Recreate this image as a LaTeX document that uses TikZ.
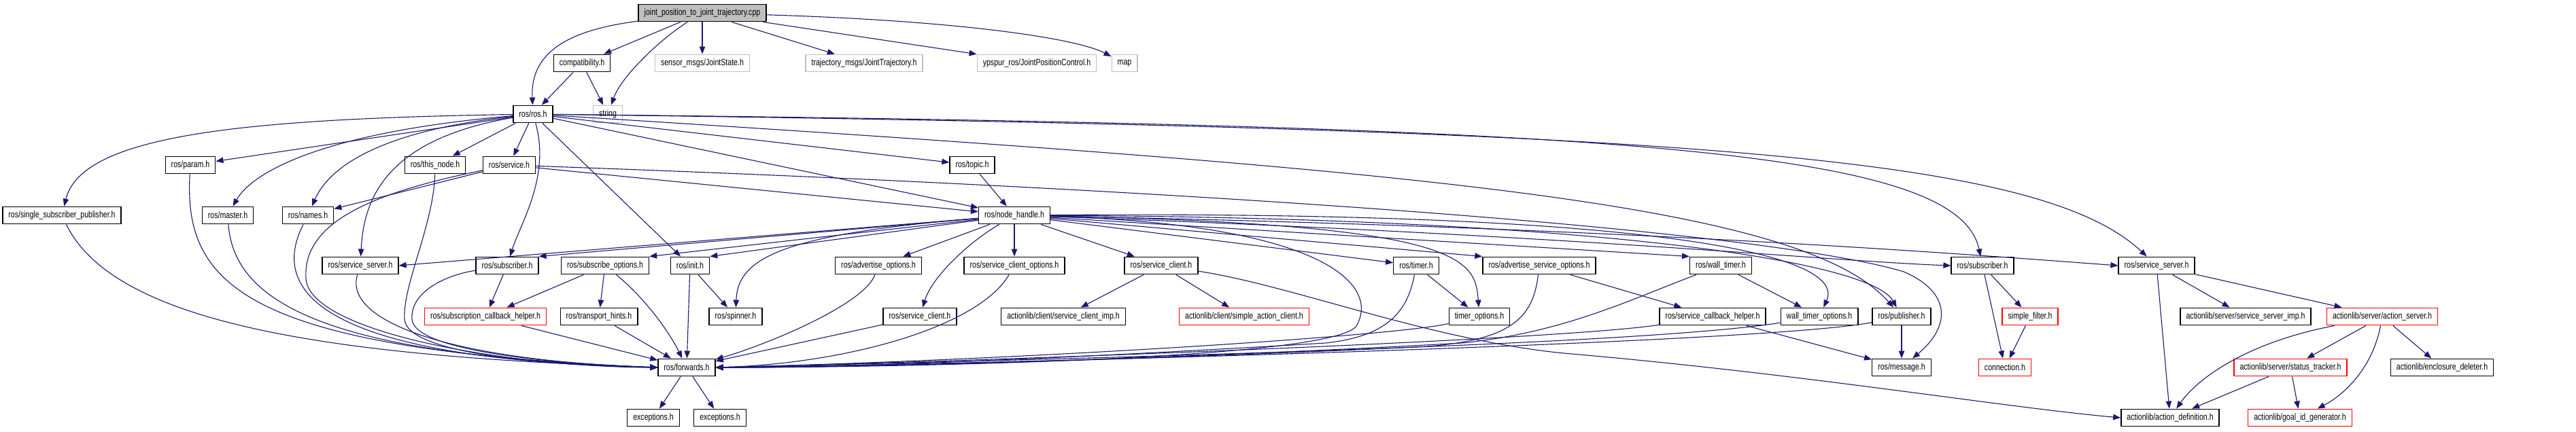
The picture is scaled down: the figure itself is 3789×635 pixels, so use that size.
\documentclass[tikz,border=0pt]{standalone}
\usepackage{fontspec}
\setmainfont{Liberation Sans}[FakeStretch=0.785]
\usetikzlibrary{arrows.meta}
\definecolor{edgec}{HTML}{191970}
\definecolor{grayb}{HTML}{BFBFBF}
\definecolor{redb}{HTML}{FF0000}
\begin{document}
\begin{tikzpicture}[x=1pt,y=-1pt,
 nb/.style={draw=black,line width=1.4pt,fill=white,rectangle,minimum height=25.5pt,inner xsep=8.5pt,inner ysep=0pt,font=\fontsize{13.5}{15}\selectfont,text=black},
 gb/.style={nb,draw=grayb},
 rb/.style={nb,draw=redb},
 mb/.style={nb,fill=grayb},
 e/.style={draw=edgec,line width=1.1pt,-{Triangle[length=11pt,width=8.5pt]}}]
\useasboundingbox (0,0) rectangle (3789,635);
% row 0
\node[mb] (main) at (1033,19) {joint\_position\_to\_joint\_trajectory.cpp};
% row 1
\node[nb] (compat) at (856,93) {compatibility.h};
\node[gb] (sensor) at (1033,93) {sensor\_msgs/JointState.h};
\node[gb] (traj) at (1271,93) {trajectory\_msgs/JointTrajectory.h};
\node[gb] (ypspur) at (1525,93) {ypspur\_ros/JointPositionControl.h};
\node[gb] (map) at (1654,93) {map};
% row 2
\node[nb] (rosh) at (784,168) {ros/ros.h};
\node[gb] (string) at (894,168) {string};
% row 3
\node[nb] (param) at (280,243) {ros/param.h};
\node[nb] (thisnode) at (640,243) {ros/this\_node.h};
\node[nb] (service) at (749,243) {ros/service.h};
\node[nb] (topic) at (1430,243) {ros/topic.h};
% row 4
\node[nb] (ssp) at (91,317) {ros/single\_subscriber\_publisher.h};
\node[nb] (master) at (335,317) {ros/master.h};
\node[nb] (names) at (453,317) {ros/names.h};
\node[nb] (nh) at (1492,317) {ros/node\_handle.h};
% row 5
\node[nb] (ssL) at (530,391) {ros/service\_server.h};
\node[nb] (subL) at (746,391) {ros/subscriber.h};
\node[nb] (subopt) at (890,391) {ros/subscribe\_options.h};
\node[nb] (init) at (1015,391) {ros/init.h};
\node[nb] (advopt) at (1292,391) {ros/advertise\_options.h};
\node[nb] (sco) at (1492,391) {ros/service\_client\_options.h};
\node[nb] (scup) at (1708,391) {ros/service\_client.h};
\node[nb] (timer) at (2083,391) {ros/timer.h};
\node[nb] (aso) at (2264,391) {ros/advertise\_service\_options.h};
\node[nb] (wtimer) at (2531,391) {ros/wall\_timer.h};
\node[nb] (subR) at (2916,391) {ros/subscriber.h};
\node[nb] (ssR) at (3172,391) {ros/service\_server.h};
% row 6
\node[rb] (sch) at (714,466) {ros/subscription\_callback\_helper.h};
\node[nb] (transport) at (881,466) {ros/transport\_hints.h};
\node[nb] (spinner) at (1082,466) {ros/spinner.h};
\node[nb] (sclow) at (1353,466) {ros/service\_client.h};
\node[nb] (sci) at (1564,466) {actionlib/client/service\_client\_imp.h};
\node[rb] (sac) at (1830,466) {actionlib/client/simple\_action\_client.h};
\node[nb] (topt) at (2176,466) {timer\_options.h};
\node[nb] (scbh) at (2519,466) {ros/service\_callback\_helper.h};
\node[nb] (wto) at (2676,466) {wall\_timer\_options.h};
\node[nb] (pub) at (2797,466) {ros/publisher.h};
\node[rb] (sfilter) at (2986,466) {simple\_filter.h};
\node[nb] (ssi) at (3303,466) {actionlib/server/service\_server\_imp.h};
\node[rb] (aserver) at (3504,466) {actionlib/server/action\_server.h};
% row 7
\node[nb] (fwd) at (1010,541) {ros/forwards.h};
\node[nb] (msg) at (2797,541) {ros/message.h};
\node[rb] (conn) at (2949,541) {connection.h};
\node[rb] (stracker) at (3369,541) {actionlib/server/status\_tracker.h};
\node[nb] (encl) at (3592,541) {actionlib/enclosure\_deleter.h};
% row 8
\node[nb] (exc1) at (961,615) {exceptions.h};
\node[nb] (exc2) at (1059,615) {exceptions.h};
\node[nb] (adef) at (3192,615) {actionlib/action\_definition.h};
\node[rb] (goalid) at (3383,615) {actionlib/goal\_id\_generator.h};

% main
\draw[e] (main) .. controls (830,45) and (780,80) .. (rosh);
\draw[e] (main) -- (compat);
\draw[e] (main) .. controls (975,55) and (915,110) .. (string);
\draw[e] (main) -- (sensor);
\draw[e] (main) -- (traj);
\draw[e] (main) -- (ypspur);
\draw[e] (main) .. controls (1400,30) and (1580,55) .. (map);
\draw[e] (compat) -- (rosh);
\draw[e] (compat) -- (string);
% ros.h
\draw[e] (rosh) .. controls (350,175) and (120,200) .. (ssp);
\draw[e] (rosh) -- (param);
\draw[e] (rosh) .. controls (470,195) and (370,255) .. (master);
\draw[e] (rosh) .. controls (540,195) and (480,255) .. (names);
\draw[e] (rosh) -- (thisnode);
\draw[e] (rosh) -- (service);
\draw[e] (rosh) .. controls (570,205) and (535,290) .. (ssL);
\draw[e] (rosh) .. controls (810,260) and (765,330) .. (subL);
\draw[e] (rosh) -- (init);
\draw[e] (rosh) -- (topic);
\draw[e] (rosh) -- (nh);
\draw[e] (rosh) .. controls (2100,250) and (2650,300) .. (pub);
\draw[e] (rosh) .. controls (2400,185) and (2880,220) .. (subR);
\draw[e] (rosh) .. controls (2500,190) and (3000,230) .. (ssR);
% service.h
\draw[e] (service) -- (names);
\draw[e] (service) -- (nh);
\draw[e] (service) .. controls (1800,280) and (2600,340) .. (2800,400) .. controls (2870,430) and (2870,480) .. (msg);
\draw[e] (service) .. controls (540,285) and (445,330) .. (450,410) .. controls (455,490) and (750,540) .. (fwd.west);
\draw[e] (topic) -- (nh);
% into forwards from the left
\draw[e] (ssp) .. controls (170,480) and (500,525) .. (fwd.west);
\draw[e] (param) .. controls (270,420) and (360,515) .. (fwd.west);
\draw[e] (master) .. controls (345,460) and (520,525) .. (fwd.west);
\draw[e] (names) .. controls (390,440) and (500,530) .. (fwd.west);
\draw[e] (thisnode) .. controls (638,330) and (592,420) .. (595,470) .. controls (598,520) and (800,538) .. (fwd.west);
\draw[e] (ssL) .. controls (505,470) and (650,530) .. (fwd.west);
\draw[e] (subL) .. controls (655,405) and (603,430) .. (606,470) .. controls (609,515) and (800,535) .. (fwd.west);
\draw[e] (sch) -- (fwd);
\draw[e] (subopt) .. controls (950,440) and (985,490) .. (fwd);
\draw[e] (transport) -- (fwd);
\draw[e] (init) -- (fwd);
\draw[e] (advopt) .. controls (1270,450) and (1120,510) .. (fwd);
\draw[e] (sclow) -- (fwd);
\draw[e] (sco) .. controls (1440,480) and (1250,535) .. (fwd.east);
\draw[e] (nh) .. controls (1950,330) and (2030,420) .. (1995,480) .. controls (1960,530) and (1300,541) .. (fwd.east);
\draw[e] (timer) .. controls (2070,460) and (2040,495) .. (1950,505) .. controls (1700,520) and (1300,541) .. (fwd.east);
\draw[e] (topt) .. controls (2050,495) and (1500,530) .. (fwd.east);
\draw[e] (aso) .. controls (2255,470) and (2220,500) .. (2100,510) .. controls (1800,525) and (1300,541) .. (fwd.east);
\draw[e] (wtimer) .. controls (2400,440) and (2300,490) .. (2150,505) .. controls (1800,525) and (1300,541) .. (fwd.east);
\draw[e] (wto) .. controls (2400,510) and (1500,530) .. (fwd.east);
\draw[e] (scbh) .. controls (2300,500) and (1500,530) .. (fwd.east);
\draw[e] (pub) .. controls (2600,505) and (1500,535) .. (fwd.east);
% sub-graphs
\draw[e] (subL) -- (sch);
\draw[e] (subopt) -- (sch);
\draw[e] (subopt) -- (transport);
\draw[e] (init) -- (spinner);
\draw[e] (fwd) -- (exc1);
\draw[e] (fwd) -- (exc2);
% node_handle
\draw[e] (nh) -- (ssL.east);
\draw[e] (nh) -- (subL.north east);
\draw[e] (nh) -- (subopt.north east);
\draw[e] (nh) -- (init.north east);
\draw[e] (nh) .. controls (1150,345) and (1085,380) .. (spinner);
\draw[e] (nh) -- (advopt);
\draw[e] (nh) .. controls (1420,360) and (1370,410) .. (sclow);
\draw[e] (nh) -- (sco);
\draw[e] (nh) -- (scup);
\draw[e] (nh) -- (timer);
\draw[e] (nh) .. controls (2150,330) and (2170,380) .. (topt);
\draw[e] (nh) -- (aso.north west);
\draw[e] (nh) -- (wtimer.north west);
\draw[e] (nh) .. controls (2400,310) and (2720,370) .. (wto);
\draw[e] (nh) .. controls (2300,320) and (2750,380) .. (pub);
\draw[e] (nh) .. controls (2300,345) and (2700,385) .. (subR.west);
\draw[e] (nh) .. controls (2400,335) and (2900,375) .. (ssR.west);
% right part
\draw[e] (scup) -- (sci);
\draw[e] (scup) -- (sac);
\draw[e] (scup) .. controls (1900,420) and (2100,500) .. (2300,520) .. controls (2650,550) and (2950,600) .. (adef.west);
\draw[e] (timer) -- (topt);
\draw[e] (aso) -- (scbh);
\draw[e] (wtimer) -- (wto);
\draw[e] (scbh) -- (msg);
\draw[e] (pub) -- (msg);
\draw[e] (subR) -- (sfilter);
\draw[e] (subR) -- (conn);
\draw[e] (sfilter) -- (conn);
\draw[e] (ssR) -- (adef);
\draw[e] (ssR) -- (ssi);
\draw[e] (ssR) -- (aserver);
\draw[e] (aserver) .. controls (3300,505) and (3230,560) .. (adef);
\draw[e] (aserver) -- (stracker);
\draw[e] (aserver) .. controls (3490,540) and (3450,580) .. (goalid);
\draw[e] (aserver) -- (encl);
\draw[e] (stracker) -- (adef);
\draw[e] (stracker) -- (goalid);
\end{tikzpicture}
\end{document}
